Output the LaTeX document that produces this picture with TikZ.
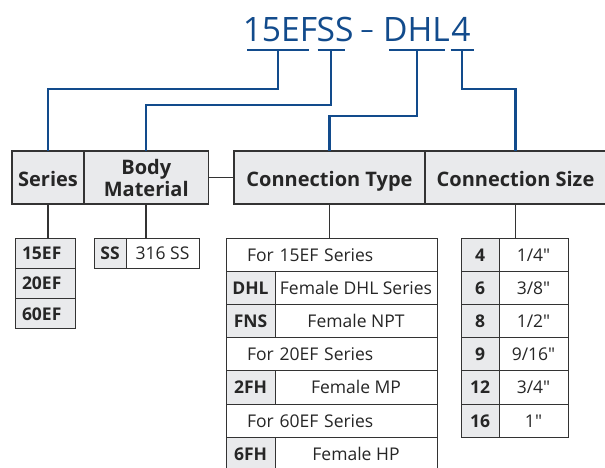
\documentclass[tikz,border=0pt]{standalone}
\usepackage{fontspec}
\setmainfont{Open Sans}[Ligatures=TeXOff]
\usetikzlibrary{positioning}
\definecolor{pnblue}{HTML}{124B8C}
\definecolor{cellgray}{HTML}{E9EAEC}
\definecolor{rulegray}{HTML}{333333}
\tikzset{
  hdrbox/.style={draw=rulegray, fill=cellgray, line width=1.2pt, anchor=north west, outer sep=0pt, minimum height=53pt, inner sep=0pt, align=center, text=black!85, font=\fontsize{20}{22}\selectfont\bfseries},
  codecell/.style={draw=rulegray, fill=cellgray, line width=1pt, anchor=north west, outer sep=0pt, inner sep=0pt, text height=12.8pt, text depth=0pt, text=black!85, font=\fontsize{17.5}{19}\selectfont\bfseries},
  valcell/.style={draw=rulegray, fill=white, line width=1pt, anchor=north west, outer sep=0pt, inner sep=0pt, text height=12.8pt, text depth=0pt, text=black!85, font=\fontsize{17.5}{19}\selectfont},
  pnlink/.style={draw=pnblue, line width=2.2pt},
  stemline/.style={draw=rulegray, line width=1.6pt},
}
\begin{document}
\begin{tikzpicture}[x=1pt, y=-1pt]
  \clip (0,0) rectangle (605,467);
  % part number
  \node[anchor=base, text=pnblue, font=\fontsize{33.6}{36}\selectfont] (t15ef) at (280,41) {15EF};
  \node[anchor=base, text=pnblue, font=\fontsize{33.6}{36}\selectfont] (tss) at (335,41) {SS};
  \node[anchor=base, text=pnblue, font=\fontsize{26}{28}\selectfont] (tdash) at (367,38) {–};
  \node[anchor=base, text=pnblue, font=\fontsize{33.6}{36}\selectfont] (tdhl) at (416.5,41) {DHL};
  \node[anchor=base, text=pnblue, font=\fontsize{33.6}{36}\selectfont] (t4) at (461,41) {4};
  \coordinate (u1) at (278,50);
  \coordinate (u2) at (331,50);
  \coordinate (u3) at (417,50);
  \coordinate (u4) at (462,50);
  \draw[pnlink] ([xshift=-31]u1) -- ([xshift=31]u1);
  \draw[pnlink] ([xshift=-13.5]u2) -- ([xshift=13.5]u2);
  \draw[pnlink] ([xshift=-28]u3) -- ([xshift=28]u3);
  \draw[pnlink] ([xshift=-11.5]u4) -- ([xshift=11.5]u4);

  % headers
  \node[hdrbox, minimum width=72pt, text height=17pt, text depth=0pt] (series) at (12,151) {Series};
  \node[hdrbox, minimum width=124.5pt] (body) at (series.north east) {Body\\Material};
  \node[hdrbox, minimum width=191pt, text height=17pt, text depth=0pt] (ctype) at (234,151) {Connection Type};
  \node[hdrbox, minimum width=181pt, text height=17pt, text depth=0pt] (csize) at (ctype.north east) {Connection Size};
  \draw[stemline] (body.east) -- (ctype.west);

  \draw[pnlink] (u1) -- ++(0,39) -| (series.north);
  \draw[pnlink] (u2) -- ++(0,55) -| (body.north);
  \draw[pnlink] (u3) -- ++(0,66) -| (ctype.north);
  \draw[pnlink] (u4) -- ++(0,39) -| (csize.north);

  % series
  \node[codecell, minimum height=30.3pt, text width=46pt, align=left, inner xsep=7pt] (se1) at (15,238) {15EF};
  \node[codecell, minimum height=30.3pt, text width=46pt, align=left, inner xsep=7pt] (se2) at (se1.south west) {20EF};
  \node[codecell, minimum height=30.3pt, text width=46pt, align=left, inner xsep=7pt] (se3) at (se2.south west) {60EF};
  \draw[stemline] (series.south) -- (series.south |- se1.north);

  % body material
  \node[codecell, minimum width=32pt, minimum height=30pt] (ssc) at (94,238) {SS};
  \node[valcell, minimum width=73pt, minimum height=30pt] (ssv) at (ssc.north east) {316 SS};
  \draw[stemline] (body.south) -- (body.south |- ssc.north);

  % connection type
  \node[valcell, minimum height=33.2pt, text width=169pt, align=left, inner xsep=21pt] (ct1) at (226,238) {For 15EF Series};
  \node[codecell, minimum width=49pt, minimum height=33.2pt] (ct2c) at (ct1.south west) {DHL};
  \node[valcell, minimum width=162pt, minimum height=33.2pt] (ct2v) at (ct2c.north east) {Female DHL Series};
  \node[codecell, minimum width=49pt, minimum height=33.2pt] (ct3c) at (ct2c.south west) {FNS};
  \node[valcell, minimum width=162pt, minimum height=33.2pt] (ct3v) at (ct3c.north east) {Female NPT};
  \node[valcell, minimum height=33.2pt, text width=169pt, align=left, inner xsep=21pt] (ct4) at (ct3c.south west) {For 20EF Series};
  \node[codecell, minimum width=49pt, minimum height=33.2pt] (ct5c) at (ct4.south west) {2FH};
  \node[valcell, minimum width=162pt, minimum height=33.2pt] (ct5v) at (ct5c.north east) {Female MP};
  \node[valcell, minimum height=33.2pt, text width=169pt, align=left, inner xsep=21pt] (ct6) at (ct5c.south west) {For 60EF Series};
  \node[codecell, minimum width=49pt, minimum height=33.2pt] (ct7c) at (ct6.south west) {6FH};
  \node[valcell, minimum width=162pt, minimum height=33.2pt] (ct7v) at (ct7c.north east) {Female HP};
  \draw[stemline] (ctype.south) -- (ctype.south |- ct1.north);

  % connection size
  \node[codecell, minimum width=38pt, minimum height=33.2pt] (sz1c) at (461,238) {4};
  \node[valcell, minimum width=69pt, minimum height=33.2pt] (sz1v) at (sz1c.north east) {1/4"};
  \node[codecell, minimum width=38pt, minimum height=33.2pt] (sz2c) at (sz1c.south west) {6};
  \node[valcell, minimum width=69pt, minimum height=33.2pt] (sz2v) at (sz2c.north east) {3/8"};
  \node[codecell, minimum width=38pt, minimum height=33.2pt] (sz3c) at (sz2c.south west) {8};
  \node[valcell, minimum width=69pt, minimum height=33.2pt] (sz3v) at (sz3c.north east) {1/2"};
  \node[codecell, minimum width=38pt, minimum height=33.2pt] (sz4c) at (sz3c.south west) {9};
  \node[valcell, minimum width=69pt, minimum height=33.2pt] (sz4v) at (sz4c.north east) {9/16"};
  \node[codecell, minimum width=38pt, minimum height=33.2pt] (sz5c) at (sz4c.south west) {12};
  \node[valcell, minimum width=69pt, minimum height=33.2pt] (sz5v) at (sz5c.north east) {3/4"};
  \node[codecell, minimum width=38pt, minimum height=33.2pt] (sz6c) at (sz5c.south west) {16};
  \node[valcell, minimum width=69pt, minimum height=33.2pt] (sz6v) at (sz6c.north east) {1"};
  \draw[stemline] (csize.south) -- (csize.south |- sz1c.north);
\end{tikzpicture}
\end{document}
